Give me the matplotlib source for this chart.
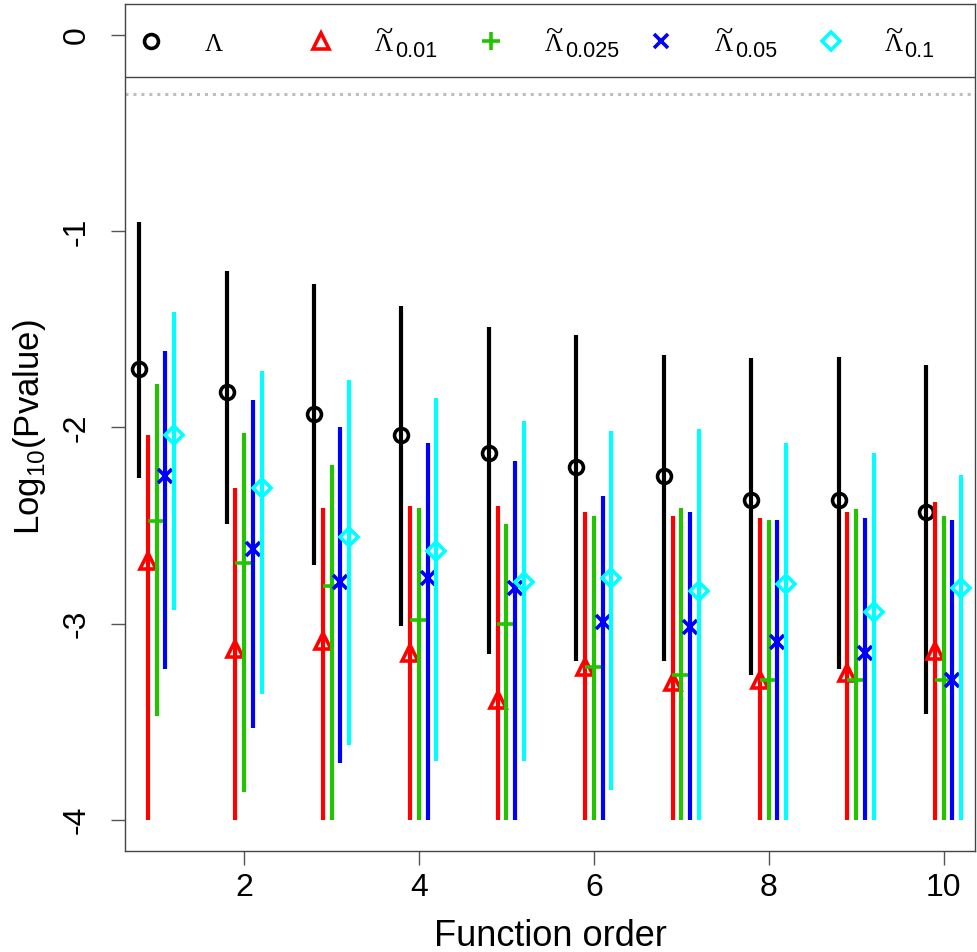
import numpy as np
import matplotlib
matplotlib.use("Agg")
import matplotlib.pyplot as plt

plt.rcParams['font.family'] = ['Liberation Sans', 'DejaVu Sans']
plt.rcParams['mathtext.fontset'] = 'custom'
plt.rcParams['mathtext.rm'] = 'Liberation Sans'
plt.rcParams['mathtext.sf'] = 'Liberation Sans'

orders = np.arange(1, 11)

# log10 p-values: point, upper, lower for each statistic
lam_mid = [-1.70, -1.82, -1.93, -2.04, -2.13, -2.20, -2.25, -2.37, -2.37, -2.43]
lam_hi = [-0.95, -1.20, -1.27, -1.38, -1.49, -1.53, -1.63, -1.645, -1.64, -1.68]
lam_lo = [-2.26, -2.49, -2.70, -3.01, -3.155, -3.19, -3.19, -3.26, -3.23, -3.46]

l01_mid = [-2.68, -3.13, -3.09, -3.15, -3.39, -3.22, -3.30, -3.29, -3.25, -3.14]
l01_hi = [-2.04, -2.31, -2.41, -2.40, -2.40, -2.43, -2.45, -2.46, -2.43, -2.38]
l01_lo = [-4.0, -4.0, -4.0, -4.0, -4.0, -4.0, -4.0, -4.0, -4.0, -4.0]

l025_mid = [-2.475, -2.69, -2.81, -2.98, -3.00, -3.22, -3.26, -3.29, -3.29, -3.29]
l025_hi = [-1.78, -2.03, -2.19, -2.41, -2.49, -2.45, -2.41, -2.47, -2.415, -2.45]
l025_lo = [-3.47, -3.86, -4.0, -4.0, -4.0, -4.0, -4.0, -4.0, -4.0, -4.0]

l05_mid = [-2.25, -2.62, -2.79, -2.77, -2.82, -2.99, -3.015, -3.095, -3.15, -3.29]
l05_hi = [-1.61, -1.86, -2.00, -2.08, -2.17, -2.35, -2.43, -2.47, -2.46, -2.47]
l05_lo = [-3.23, -3.53, -3.71, -4.0, -4.0, -4.0, -4.0, -4.0, -4.0, -4.0]

l1_mid = [-2.04, -2.31, -2.56, -2.63, -2.79, -2.77, -2.835, -2.80, -2.94, -2.82]
l1_hi = [-1.41, -1.71, -1.76, -1.85, -1.965, -2.02, -2.01, -2.08, -2.13, -2.24]
l1_lo = [-2.93, -3.36, -3.62, -3.70, -3.70, -3.85, -4.0, -4.0, -4.0, -4.0]

# legend: Lambda, tilde flag and subscript
lab_tilde = [False, True, True, True, True]
lab_sub = ['', '0.01', '0.025', '0.05', '0.1']
colors = ['black', '#FF0000', '#22C400', '#0000FF', '#00FFFF']
markers = ['o', '^', '+', 'x', 'D']
offsets = [-0.2, -0.1, 0.0, 0.1, 0.2]

series = [(lam_mid, lam_hi, lam_lo), (l01_mid, l01_hi, l01_lo), (l025_mid, l025_hi, l025_lo),
          (l05_mid, l05_hi, l05_lo), (l1_mid, l1_hi, l1_lo)]

fig = plt.figure(figsize=(9.78, 9.52), dpi=100)
ax = fig.add_axes([0.128, 0.106, 0.869, 0.890])

xmin, xmax = 0.64, 10.36
ymin, ymax = -4.16, 0.16
ax.set_xlim(xmin, xmax)
ax.set_ylim(ymin, ymax)

ax.axhline(np.log10(0.5), color='#BEBEBE', lw=2.2, ls=(0, (1, 1.6)))

msize = [10, 12, 13, 10, 9.5]
for k, (mid, hi, lo) in enumerate(series):
    xs = orders + offsets[k]
    ax.vlines(xs, lo, hi, color=colors[k], lw=3.0)
    ax.plot(xs, mid, ls='none', marker=markers[k], ms=msize[k], mfc='none',
            mec=colors[k], mew=2.6)

# legend strip at the top of the panel
ax.axhline(-0.214, color='#444444', lw=1.0)
fig.canvas.draw()
r = fig.canvas.get_renderer()
inv = ax.transData.inverted()
px_y = (ymax - ymin) / (ax.get_window_extent().height)  # data units per pixel
base = -0.08
for k in range(5):
    lx = xmin + (0.03 + 0.2 * k) * (xmax - xmin)
    ax.plot(lx, -0.03, ls='none', marker=markers[k], ms=msize[k],
            mfc='none', mec=colors[k], mew=2.6, clip_on=False)
    t = ax.text(lx + 0.064 * (xmax - xmin), base, '\u039b', fontsize=18,
                family='Liberation Serif', va='baseline', ha='left')
    bb = t.get_window_extent(r)
    (x0, _), (x1, _) = inv.transform([[bb.x0, bb.y0], [bb.x1, bb.y1]])
    if lab_tilde[k]:
        ax.text((x0 + x1) / 2, base + 10.5 * px_y, '~', fontsize=23,
                family='Liberation Serif', va='baseline', ha='center')
    if lab_sub[k]:
        ax.text(x1 + 1.5 * (xmax - xmin) / ax.get_window_extent().width,
                base - 6.5 * px_y, lab_sub[k], fontsize=15.5, va='baseline', ha='left')

ax.set_xticks([2, 4, 6, 8, 10])
ax.set_yticks([0, -1, -2, -3, -4])
ax.set_yticklabels(['0', '-1', '-2', '-3', '-4'])
ax.tick_params(axis='both', length=10, width=1, color='#555555', labelsize=23)
ax.tick_params(axis='x', pad=6)
ax.tick_params(axis='y', pad=14)
for t in ax.get_yticklabels():
    t.set_rotation(90)
    t.set_va('center')
for s in ax.spines.values():
    s.set_color('#444444')
    s.set_linewidth(1.0)

ax.set_xlabel('Function order', fontsize=26, labelpad=11)
ax.set_ylabel(r'Log$_{\mathsf{10}}$(Pvalue)', fontsize=25, labelpad=10)

fig.savefig('out.png', dpi=100)
